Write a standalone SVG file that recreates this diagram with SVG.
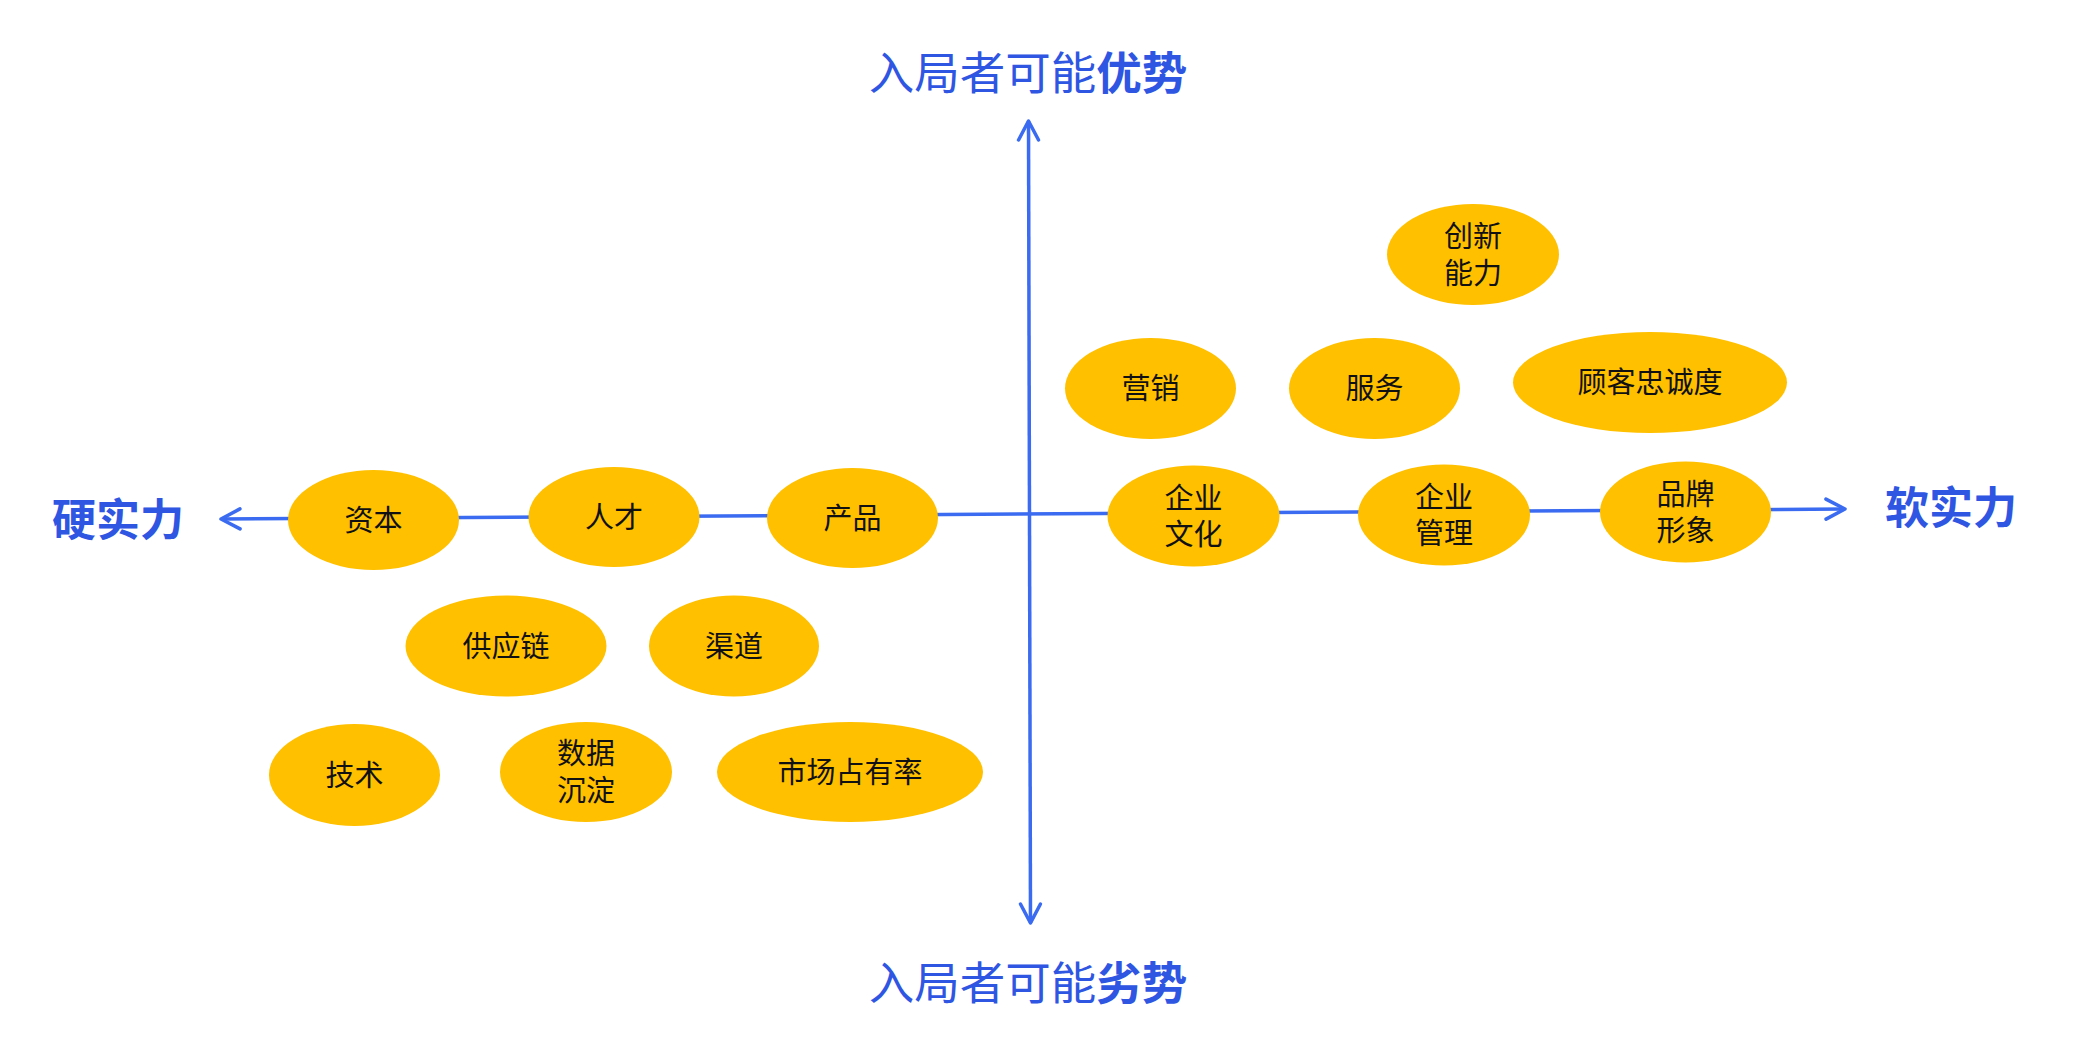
<svg xmlns="http://www.w3.org/2000/svg" width="2077" height="1060" viewBox="0 0 2077 1060">
<style>
.ax{fill:none;stroke:#3A6BF0;stroke-width:3.5}
.nd{fill:#FFC000}
.lb{font-family:"Noto Sans CJK SC","Noto Sans",sans-serif;font-size:29px;fill:#111;text-anchor:middle;dominant-baseline:central}
.tt{font-family:"Noto Sans CJK SC","Noto Sans",sans-serif;font-size:44px;fill:#2F56E3;text-anchor:middle;dominant-baseline:central}
.tb{font-size:45.5px}
.b{font-weight:bold}
</style>
<defs>
<marker id="arr" markerUnits="userSpaceOnUse" markerWidth="30" markerHeight="30" viewBox="-25 -15 30 30" refX="0" refY="0" orient="auto-start-reverse">
<path d="M-19,-10 L0,0 L-19,10" fill="none" stroke="#3A6BF0" stroke-width="3.5" stroke-linecap="round" stroke-linejoin="round"/>
</marker>
</defs>
<rect width="2077" height="1060" fill="#fff"/>
<g id="connectors">
<line class="ax" x1="221" y1="519" x2="1845" y2="509" marker-start="url(#arr)" marker-end="url(#arr)"/>
<line class="ax" x1="1028.5" y1="121" x2="1030.5" y2="923" marker-start="url(#arr)" marker-end="url(#arr)"/>
</g>
<g id="title-top"><text class="tt tb" x="1028" y="70">入局者可能<tspan class="b">优势</tspan></text></g>
<g id="title-bottom"><text class="tt tb" x="1028" y="980">入局者可能<tspan class="b">劣势</tspan></text></g>
<g id="label-left"><text class="tt b" x="118" y="517">硬实力</text></g>
<g id="label-right"><text class="tt b" x="1951" y="505">软实力</text></g>
<g id="n-ziben"><ellipse class="nd" cx="373.5" cy="520" rx="85.5" ry="50"/><text class="lb" x="373.5" y="517.5">资本</text></g>
<g id="n-rencai"><ellipse class="nd" cx="614" cy="517" rx="85.5" ry="50"/><text class="lb" x="614" y="514.5">人才</text></g>
<g id="n-chanpin"><ellipse class="nd" cx="852.5" cy="518" rx="85.5" ry="50"/><text class="lb" x="852.5" y="515.5">产品</text></g>
<g id="n-qiyewenhua"><ellipse class="nd" cx="1193.5" cy="516" rx="86" ry="50.5"/><text class="lb" x="1193.5" y="495.5">企业<tspan x="1193.5" dy="36.5">文化</tspan></text></g>
<g id="n-qiyeguanli"><ellipse class="nd" cx="1444" cy="515" rx="86" ry="50.5"/><text class="lb" x="1444" y="494.5">企业<tspan x="1444" dy="36.5">管理</tspan></text></g>
<g id="n-pinpai"><ellipse class="nd" cx="1685.5" cy="512" rx="85.5" ry="50.5"/><text class="lb" x="1685.5" y="491.5">品牌<tspan x="1685.5" dy="36.5">形象</tspan></text></g>
<g id="n-gongyinglian"><ellipse class="nd" cx="506" cy="646" rx="100.5" ry="50.5"/><text class="lb" x="506" y="643.5">供应链</text></g>
<g id="n-qudao"><ellipse class="nd" cx="734" cy="646" rx="85" ry="50.5"/><text class="lb" x="734" y="643.5">渠道</text></g>
<g id="n-jishu"><ellipse class="nd" cx="354.5" cy="775" rx="85.5" ry="51"/><text class="lb" x="354.5" y="772.5">技术</text></g>
<g id="n-shuju"><ellipse class="nd" cx="586" cy="772" rx="86" ry="50"/><text class="lb" x="586" y="751">数据<tspan x="586" dy="36.5">沉淀</tspan></text></g>
<g id="n-shichang"><ellipse class="nd" cx="850" cy="772" rx="133" ry="50"/><text class="lb" x="850" y="769.5">市场占有率</text></g>
<g id="n-chuangxin"><ellipse class="nd" cx="1473" cy="254.5" rx="86" ry="50.5"/><text class="lb" x="1473" y="234">创新<tspan x="1473" dy="36.5">能力</tspan></text></g>
<g id="n-yingxiao"><ellipse class="nd" cx="1150.5" cy="388.5" rx="85.5" ry="50.5"/><text class="lb" x="1150.5" y="386">营销</text></g>
<g id="n-fuwu"><ellipse class="nd" cx="1374.5" cy="388.5" rx="85.5" ry="50.5"/><text class="lb" x="1374.5" y="386">服务</text></g>
<g id="n-guke"><ellipse class="nd" cx="1650" cy="382.5" rx="137" ry="50.5"/><text class="lb" x="1650" y="380">顾客忠诚度</text></g>
</svg>
